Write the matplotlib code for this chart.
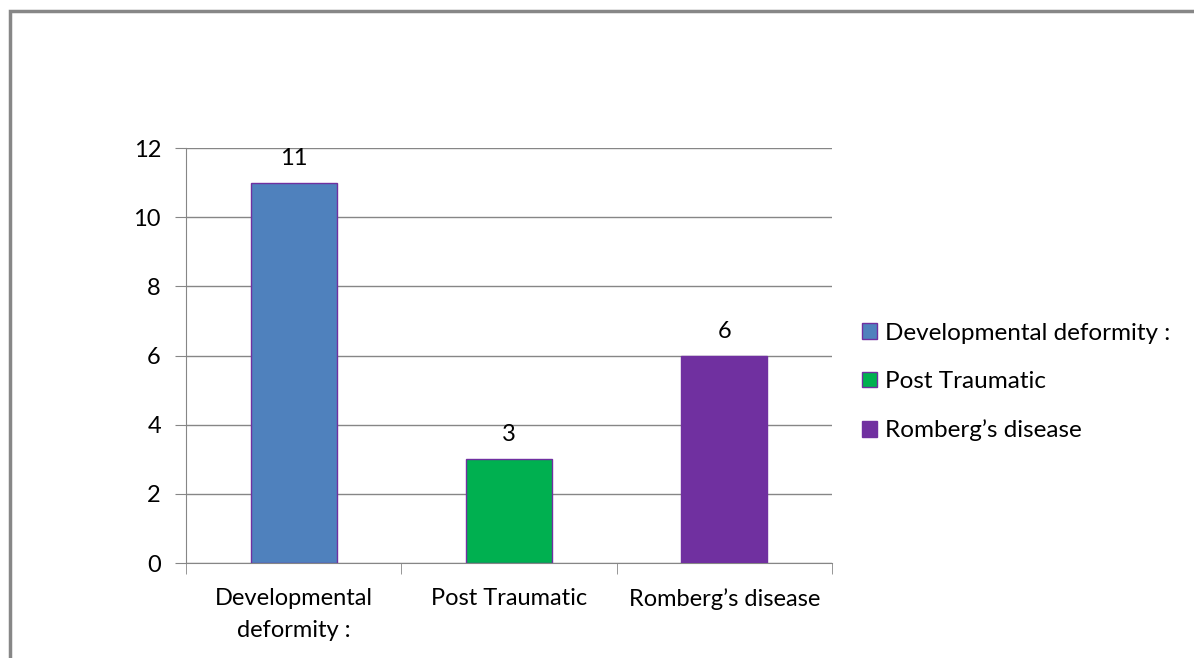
import matplotlib.pyplot as plt
from matplotlib.patches import Patch, Rectangle

categories = ["Developmental\ndeformity :", "Post Traumatic", "Romberg\u2019s disease"]
legend_labels = ["Developmental deformity :", "Post Traumatic", "Romberg\u2019s disease"]
counts = [11, 3, 6]
colors = ["#4F81BD", "#00B050", "#7030A0"]

plt.rcParams['font.family'] = ['Lato', 'DejaVu Sans']
plt.rcParams['font.size'] = 17

fig = plt.figure(figsize=(11.94, 6.58), dpi=100)
ax = fig.add_axes([186 / 1194, 1 - 563 / 658, 646 / 1194, 415 / 658])

# outer frame of the chart (runs off the right and bottom edge)
fig.patches.append(Rectangle((10 / 1194, -0.1), 1.2, 1 - 11 / 658 + 0.1,
                             transform=fig.transFigure, fill=False,
                             edgecolor="#878787", linewidth=2.5))

x = range(len(counts))
bars = ax.bar(x, counts, width=0.4, color=colors, edgecolor="#7030A0", linewidth=1, zorder=3)
for b, v in zip(bars, counts):
    ax.annotate(str(v), (b.get_x() + b.get_width() / 2, v), xytext=(0, 10),
                textcoords="offset points", ha="center", va="bottom", fontsize=17)

ax.set_xlim(-0.5, 2.5)
ax.set_ylim(0, 12)
ax.set_yticks(range(0, 13, 2))
ax.yaxis.grid(True, color="#868686", linewidth=1)
ax.set_axisbelow(True)

ax.set_xticks(list(x))
ax.set_xticklabels(categories, linespacing=1.65)
ax.set_xticks([-0.5, 0.5, 1.5, 2.5], minor=True)
ax.tick_params(axis="x", which="major", length=0, pad=18)
ax.tick_params(axis="x", which="minor", length=8, color="#868686")
ax.tick_params(axis="y", length=8, color="#868686", pad=10)

for s in ["top", "right"]:
    ax.spines[s].set_visible(False)
for s in ["left", "bottom"]:
    ax.spines[s].set_color("#868686")

handles = [Patch(facecolor=c, edgecolor="#7030A0", linewidth=1) for c in colors]
fig.legend(handles, legend_labels, loc="center left", bbox_to_anchor=(840 / 1194, 1 - 382 / 658),
           frameon=False, handlelength=0.62, handleheight=0.62, handletextpad=0.35,
           labelspacing=1.13, fontsize=17.5)

fig.savefig("out.png", dpi=100)
